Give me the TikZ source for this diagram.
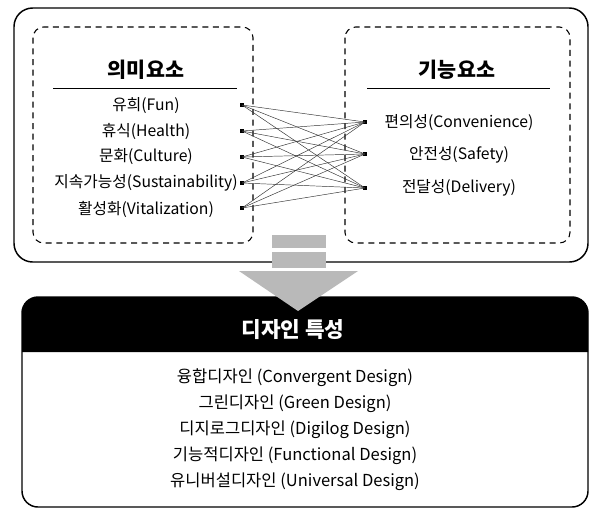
\documentclass[tikz,border=0pt]{standalone}
\usepackage{fontspec}
\setmainfont{Noto Sans CJK KR}
\begin{document}
\begin{tikzpicture}[x=0.75pt,y=-0.75pt,
  outerbox/.style={draw=black,line width=1.1pt,rounded corners=14pt},
  dashbox/.style={draw=black,line width=0.8pt,dash pattern=on 4.5pt off 3.5pt,rounded corners=8pt},
  ttl/.style={font=\bfseries\fontsize{15.5}{17}\selectfont,inner sep=0pt},
  item/.style={font=\fontsize{11.8}{13}\selectfont,inner sep=0pt},
  ditem/.style={font=\fontsize{12.4}{14}\selectfont,inner sep=0pt},
  dot/.style={rectangle,fill=black,minimum size=3.5pt,inner sep=0pt},
  link/.style={draw=black!80,line width=0.35pt},
  arrowfill/.style={fill=gray!55,draw=none}
]
\useasboundingbox (0,0) rectangle (591,508);
% outer top box
\draw[outerbox] (14,8) rectangle (588,262);
% dashed boxes
\draw[dashbox] (33,27) rectangle (253,243);
\draw[dashbox] (345,27) rectangle (570,243);
% titles
\node[ttl] (t1) at (146,70) {의미요소};
\node[ttl] (t2) at (457,70) {기능요소};
\draw[line width=0.6pt] (53,88) -- (237,88);
\draw[line width=0.6pt] (367,88) -- (550,88);
% left items
\node[item] (a1) at (146,106) {유희(Fun)};
\node[item] (a2) at (146,131) {휴식(Health)};
\node[item] (a3) at (146,157) {문화(Culture)};
\node[item] (a4) at (146,183) {지속가능성(Sustainability)};
\node[item] (a5) at (146,209) {활성화(Vitalization)};
% right items
\node[item] (b1) at (459,123) {편의성(Convenience)};
\node[item] (b2) at (459,155) {안전성(Safety)};
\node[item] (b3) at (459,188) {전달성(Delivery)};
% dots
\node[dot] (l1) at (242,105) {};
\node[dot] (l2) at (242,131) {};
\node[dot] (l3) at (242,157) {};
\node[dot] (l4) at (242,183) {};
\node[dot] (l5) at (242,208) {};
\node[dot] (r1) at (365,122) {};
\node[dot] (r2) at (365,154) {};
\node[dot] (r3) at (365,188) {};
\foreach \i in {1,...,5}{
  \foreach \j in {1,2,3}{
    \draw[link] (l\i.center) -- (r\j.center);
  }
}
% bottom box
\fill[black] (22,352) {[rounded corners=12pt] -- (22,297) -- (588,297)} -- (588,352) -- cycle;
\draw[line width=1.1pt,rounded corners=12pt] (22,297) rectangle (588,507);
% arrow
\fill[arrowfill] (272,235) rectangle (326,248);
\fill[arrowfill] (272,252) rectangle (326,268);
\fill[arrowfill] (239,271) -- (358,271) -- (298,311) -- cycle;
\node[ttl,text=white,font=\bfseries\fontsize{16}{18}\selectfont] (hd) at (293,330) {디자인 특성};
% bottom items
\node[ditem] (d1) at (295,378) {융합디자인 (Convergent Design)};
\node[ditem] (d2) at (295,404) {그린디자인 (Green Design)};
\node[ditem] (d3) at (295,430) {디지로그디자인 (Digilog Design)};
\node[ditem] (d4) at (295,456) {기능적디자인 (Functional Design)};
\node[ditem] (d5) at (295,482) {유니버설디자인 (Universal Design)};
\end{tikzpicture}
\end{document}
